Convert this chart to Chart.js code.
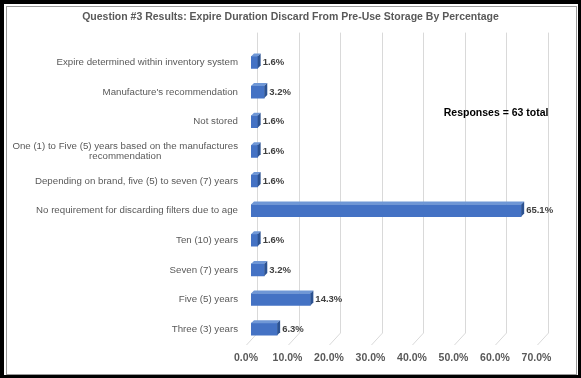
<!DOCTYPE html>
<html>
<head>
<meta charset="utf-8">
<script src="https://cdn.jsdelivr.net/npm/chart.js@4.4.1/dist/chart.umd.min.js"></script>
<style>
  html, body { margin: 0; padding: 0; background: #fff; }
  #wrap { position: relative; width: 581px; height: 378px; overflow: hidden; }
  canvas { position: absolute; left: 0; top: 0; }
  #outer { position: absolute; left: 0; top: 0; width: 581px; height: 378px; box-sizing: border-box;
           border-top: 4px solid #000; border-left: 4px solid #000; border-right: 3px solid #000; border-bottom: 3px solid #000; pointer-events: none; }
  #inner { position: absolute; left: 6px; top: 6px; right: 4px; bottom: 3px; box-sizing: border-box;
           border: 1.5px solid #9a9a9a; pointer-events: none; }
</style>
</head>
<body>
<div id="wrap">
  <canvas id="c" width="581" height="378"></canvas>
  <div id="outer"></div>
  <div id="inner"></div>
</div>
<script>
const chartTitle = "Question #3 Results: Expire Duration Discard From Pre-Use Storage By Percentage";
const categories = [
  "Expire determined within inventory system",
  "Manufacture's recommendation",
  "Not stored",
  ["One (1) to Five (5) years based on the manufactures", "recommendation"],
  "Depending on brand, five (5) to seven (7) years",
  "No requirement for discarding filters due to age",
  "Ten (10) years",
  "Seven (7) years",
  "Five (5) years",
  "Three (3) years"
];
const percentages = [1.6, 3.2, 1.6, 1.6, 1.6, 65.1, 1.6, 3.2, 14.3, 6.3];
const xTicks = [0, 10, 20, 30, 40, 50, 60, 70];
const annotationText = "Responses = 63 total";

const FONT = "'Liberation Sans', Arial, sans-serif";
const DX = 3, DY = -3;

const gridPlugin = {
  id: 'grid3d',
  beforeDatasetsDraw(chart) {
    const ctx = chart.ctx, xs = chart.scales.x, a = chart.chartArea;
    ctx.save();
    ctx.strokeStyle = '#d9d9d9';
    ctx.lineWidth = 1;
    xTicks.forEach(v => {
      const p = Math.round(xs.getPixelForValue(v)) + 0.5;
      ctx.beginPath();
      ctx.moveTo(p + 6, a.top - 15);
      ctx.lineTo(p + 6, a.bottom - 11);
      ctx.lineTo(p - 5, a.bottom + 1);
      ctx.stroke();
    });
    ctx.restore();
  }
};

const bar3dPlugin = {
  id: 'bar3d',
  afterDatasetsDraw(chart) {
    const ctx = chart.ctx;
    const meta = chart.getDatasetMeta(0);
    ctx.save();
    meta.data.forEach((bar, i) => {
      const p = bar.getProps(['x', 'y', 'base', 'height'], true);
      const top = p.y - p.height / 2, bottom = p.y + p.height / 2;
      ctx.fillStyle = '#6f97d6';
      ctx.beginPath();
      ctx.moveTo(p.base, top);
      ctx.lineTo(p.base + DX, top + DY);
      ctx.lineTo(p.x + DX, top + DY);
      ctx.lineTo(p.x, top);
      ctx.closePath();
      ctx.fill();
      ctx.fillStyle = '#2c5291';
      ctx.beginPath();
      ctx.moveTo(p.x, top);
      ctx.lineTo(p.x + DX, top + DY);
      ctx.lineTo(p.x + DX, bottom + DY);
      ctx.lineTo(p.x, bottom);
      ctx.closePath();
      ctx.fill();
      ctx.fillStyle = '#404040';
      ctx.font = "bold 9.5px " + FONT;
      ctx.textAlign = 'left';
      ctx.textBaseline = 'middle';
      ctx.fillText(percentages[i].toFixed(1) + '%', p.x + DX + 2, p.y);
    });
    ctx.restore();
  }
};

const textPlugin = {
  id: 'texts',
  afterDraw(chart) {
    const ctx = chart.ctx, ys = chart.scales.y, a = chart.chartArea;
    ctx.save();
    // title
    ctx.fillStyle = '#595959';
    ctx.font = "bold 10.5px " + FONT;
    ctx.textAlign = 'center';
    ctx.textBaseline = 'middle';
    ctx.fillText(chartTitle, chart.width / 2, 17);
    // category labels
    ctx.font = "9.7px " + FONT;
    const right = a.left - 13;
    const lh = 10.5;
    categories.forEach((lab, i) => {
      const lines = Array.isArray(lab) ? lab : [lab];
      const w = Math.max(...lines.map(l => ctx.measureText(l).width));
      const cx = right - w / 2;
      const cy = ys.getPixelForValue(i);
      const y0 = cy - (lines.length - 1) * lh / 2;
      lines.forEach((l, k) => ctx.fillText(l, cx, y0 + k * lh));
    });
    // annotation
    ctx.fillStyle = '#000';
    ctx.font = "bold 10.5px " + FONT;
    ctx.textAlign = 'right';
    ctx.fillText(annotationText, a.right + 7, 113);
    ctx.restore();
  }
};

new Chart(document.getElementById('c'), {
  type: 'bar',
  data: {
    labels: categories,
    datasets: [{
      data: percentages,
      backgroundColor: '#4472c4',
      borderWidth: 0,
      barThickness: 12
    }]
  },
  plugins: [gridPlugin, bar3dPlugin, textPlugin],
  options: {
    indexAxis: 'y',
    responsive: false,
    animation: false,
    devicePixelRatio: 1,
    layout: { padding: { top: 47.6, left: 0, right: 39.5, bottom: 14 } },
    plugins: {
      legend: { display: false },
      tooltip: { enabled: false },
      title: { display: false }
    },
    scales: {
      x: {
        min: 0, max: 70,
        grid: { display: false, drawTicks: false },
        border: { display: false },
        afterFit(s) { s.height = 20; },
        afterBuildTicks(s) { s.ticks = xTicks.map(v => ({ value: v })); },
        ticks: {
          padding: 8,
          labelOffset: -5,
          color: '#595959',
          font: { family: FONT, size: 10.5, weight: 'bold' },
          callback: v => Number(v).toFixed(1) + '%'
        }
      },
      y: {
        grid: { display: false },
        border: { display: false },
        ticks: { display: false },
        afterFit(s) { s.width = 251; }
      }
    }
  }
});
</script>
</body>
</html>
